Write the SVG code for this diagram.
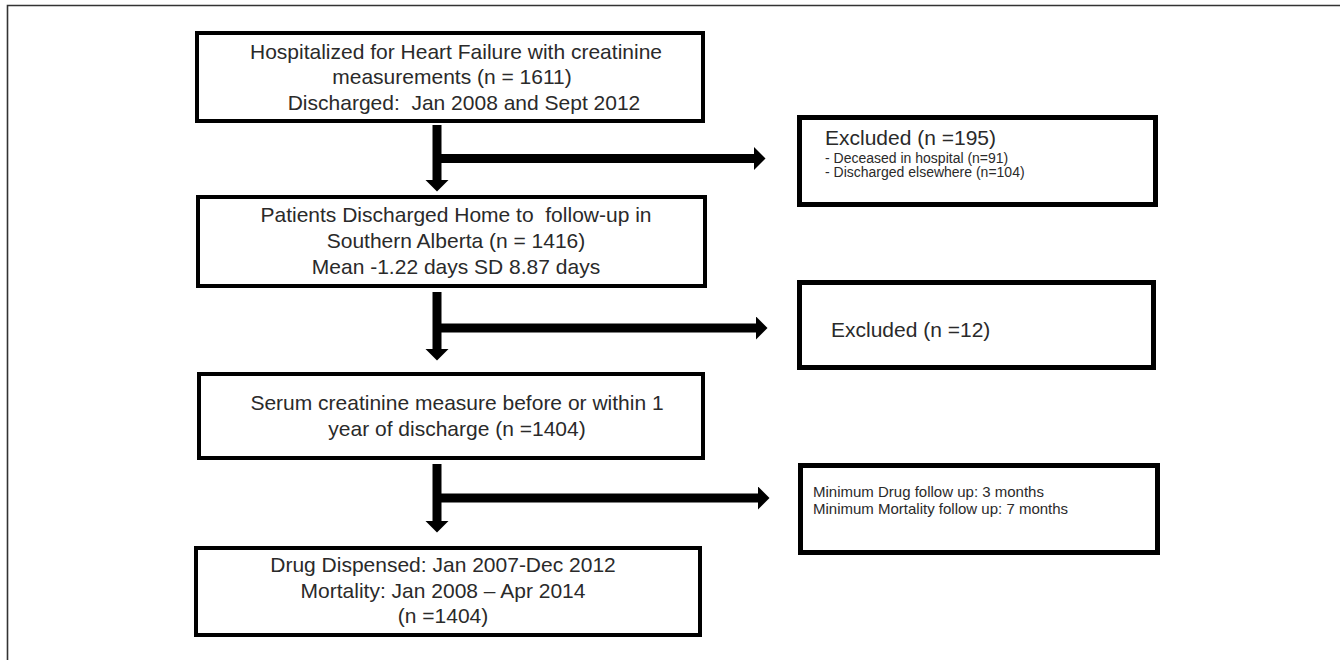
<svg xmlns="http://www.w3.org/2000/svg" width="1340" height="660" viewBox="0 0 1340 660">
  <style>
    .frame { stroke: #333; stroke-width: 1.6; fill: none; }
    .box { fill: #fff; stroke: #000; stroke-width: 4; }
    .xbox { fill: #fff; stroke: #000; stroke-width: 5; }
    .t { font-family: "Liberation Sans", Arial, sans-serif; font-size: 21px; fill: #2a2a2a; }
    .c { text-anchor: middle; }
    .s { font-family: "Liberation Sans", Arial, sans-serif; font-size: 14px; fill: #2a2a2a; }
    .m { font-family: "Liberation Sans", Arial, sans-serif; font-size: 15px; fill: #2a2a2a; }
    .conn { stroke: #000; stroke-width: 9; fill: none; marker-end: url(#ah); }
  </style>
  <defs>
    <marker id="ah" markerUnits="userSpaceOnUse" markerWidth="12" markerHeight="24" viewBox="0 0 12 24" refX="0.5" refY="12" orient="auto">
      <path d="M0,0 L12,12 L0,24 Z" fill="#000"/>
    </marker>
  </defs>
  <rect width="1340" height="660" fill="#fff"/>
  <path class="frame" d="M7.5,660 V5.5 H1340"/>

  <g id="connectors">
    <line class="conn" x1="437" y1="125" x2="437" y2="180"/>
    <line class="conn" x1="437" y1="158.5" x2="754" y2="158.5"/>
    <line class="conn" x1="437" y1="292" x2="437" y2="349"/>
    <line class="conn" x1="437" y1="328" x2="756" y2="328"/>
    <line class="conn" x1="437" y1="464" x2="437" y2="521"/>
    <line class="conn" x1="437" y1="498" x2="758" y2="498"/>
  </g>

  <g id="n1">
    <rect class="box" x="197" y="33" width="506" height="88"/>
    <text class="t c" x="456" y="59">Hospitalized for Heart Failure with creatinine</text>
    <text class="t c" x="452" y="84">measurements (n = 1611)</text>
    <text class="t c" x="464" y="110" xml:space="preserve">Discharged:  Jan 2008 and Sept 2012</text>
  </g>

  <g id="x1">
    <rect class="xbox" x="799.5" y="117.5" width="356" height="87"/>
    <text class="t" x="825" y="145">Excluded (n =195)</text>
    <text class="s" x="825" y="163">- Deceased in hospital (n=91)</text>
    <text class="s" x="825" y="177">- Discharged elsewhere (n=104)</text>
  </g>

  <g id="n2">
    <rect class="box" x="198" y="197" width="507" height="89"/>
    <text class="t c" x="456" y="222" xml:space="preserve">Patients Discharged Home to  follow-up in</text>
    <text class="t c" x="456" y="248">Southern Alberta (n = 1416)</text>
    <text class="t c" x="456" y="274">Mean -1.22 days SD 8.87 days</text>
  </g>

  <g id="x2">
    <rect class="xbox" x="799.5" y="282.5" width="354" height="85"/>
    <text class="t" x="831" y="337">Excluded (n =12)</text>
  </g>

  <g id="n3">
    <rect class="box" x="199" y="374" width="504" height="84"/>
    <text class="t c" x="457" y="410">Serum creatinine measure before or within 1</text>
    <text class="t c" x="457" y="436">year of discharge (n =1404)</text>
  </g>

  <g id="x3">
    <rect class="xbox" x="800.5" y="465.5" width="357" height="87"/>
    <text class="m" x="813" y="497">Minimum Drug follow up: 3 months</text>
    <text class="m" x="813" y="514">Minimum Mortality follow up: 7 months</text>
  </g>

  <g id="n4">
    <rect class="box" x="196" y="548" width="504" height="87"/>
    <text class="t c" x="443" y="572">Drug Dispensed: Jan 2007-Dec 2012</text>
    <text class="t c" x="443" y="598">Mortality: Jan 2008 – Apr 2014</text>
    <text class="t c" x="443" y="623">(n =1404)</text>
  </g>
</svg>
